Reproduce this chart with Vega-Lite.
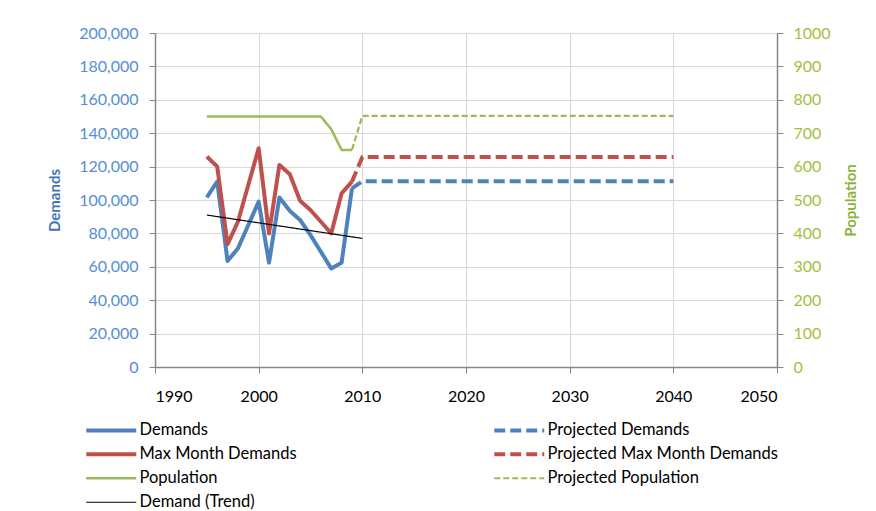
{
  "$schema": "https://vega.github.io/schema/vega-lite/v6.json",
  "width": 622,
  "height": 334,
  "autosize": {"type": "none"},
  "padding": {"left": 155, "top": 33, "right": 99, "bottom": 144},
  "background": "white",
  "config": {
    "view": {"stroke": null},
    "font": "Lato",
    "axis": {"labelFont": "Lato", "titleFont": "Lato", "labelFontSize": 16, "gridColor": "#d9d9d9", "domainColor": "#868686", "tickColor": "#868686", "tickSize": 6, "domainWidth": 1.5},
    "legend": {"labelFont": "Lato", "labelFontSize": 16.5, "labelColor": "#000000", "labelLimit": 400}
  },
  "data": {"values": [
    {"year": 1995, "value": 101600, "series": "Demands"},
    {"year": 1996, "value": 111000, "series": "Demands"},
    {"year": 1997, "value": 63500, "series": "Demands"},
    {"year": 1998, "value": 71000, "series": "Demands"},
    {"year": 1999, "value": 85000, "series": "Demands"},
    {"year": 2000, "value": 99000, "series": "Demands"},
    {"year": 2001, "value": 62500, "series": "Demands"},
    {"year": 2002, "value": 101500, "series": "Demands"},
    {"year": 2003, "value": 93500, "series": "Demands"},
    {"year": 2004, "value": 88000, "series": "Demands"},
    {"year": 2005, "value": 79000, "series": "Demands"},
    {"year": 2006, "value": 69000, "series": "Demands"},
    {"year": 2007, "value": 59000, "series": "Demands"},
    {"year": 2008, "value": 62500, "series": "Demands"},
    {"year": 2009, "value": 107000, "series": "Demands"},
    {"year": 2009, "value": 107000, "series": "Projected Demands"},
    {"year": 2010, "value": 111300, "series": "Projected Demands"},
    {"year": 2040, "value": 111300, "series": "Projected Demands"},
    {"year": 1995, "value": 126000, "series": "Max Month Demands"},
    {"year": 1996, "value": 120000, "series": "Max Month Demands"},
    {"year": 1997, "value": 73500, "series": "Max Month Demands"},
    {"year": 1998, "value": 87000, "series": "Max Month Demands"},
    {"year": 1999, "value": 109000, "series": "Max Month Demands"},
    {"year": 2000, "value": 131000, "series": "Max Month Demands"},
    {"year": 2001, "value": 80000, "series": "Max Month Demands"},
    {"year": 2002, "value": 121000, "series": "Max Month Demands"},
    {"year": 2003, "value": 115500, "series": "Max Month Demands"},
    {"year": 2004, "value": 99500, "series": "Max Month Demands"},
    {"year": 2005, "value": 94000, "series": "Max Month Demands"},
    {"year": 2006, "value": 87000, "series": "Max Month Demands"},
    {"year": 2007, "value": 80000, "series": "Max Month Demands"},
    {"year": 2008, "value": 104000, "series": "Max Month Demands"},
    {"year": 2009, "value": 111000, "series": "Max Month Demands"},
    {"year": 2009, "value": 111000, "series": "Projected Max Month Demands"},
    {"year": 2010, "value": 125700, "series": "Projected Max Month Demands"},
    {"year": 2040, "value": 125700, "series": "Projected Max Month Demands"},
    {"year": 1995, "value": 91000, "series": "Demand (Trend)"},
    {"year": 2010, "value": 77000, "series": "Demand (Trend)"},
    {"year": 1995, "value": 750, "series": "Population"},
    {"year": 1996, "value": 750, "series": "Population"},
    {"year": 1997, "value": 750, "series": "Population"},
    {"year": 1998, "value": 750, "series": "Population"},
    {"year": 1999, "value": 750, "series": "Population"},
    {"year": 2000, "value": 750, "series": "Population"},
    {"year": 2001, "value": 750, "series": "Population"},
    {"year": 2002, "value": 750, "series": "Population"},
    {"year": 2003, "value": 750, "series": "Population"},
    {"year": 2004, "value": 750, "series": "Population"},
    {"year": 2005, "value": 750, "series": "Population"},
    {"year": 2006, "value": 750, "series": "Population"},
    {"year": 2007, "value": 712, "series": "Population"},
    {"year": 2008, "value": 650, "series": "Population"},
    {"year": 2009, "value": 650, "series": "Population"},
    {"year": 2009, "value": 650, "series": "Projected Population"},
    {"year": 2010, "value": 752, "series": "Projected Population"},
    {"year": 2040, "value": 752, "series": "Projected Population"}
  ]},
  "encoding": {
    "x": {"field": "year", "type": "quantitative",
      "scale": {"domain": [1990, 2050], "nice": false, "zero": false},
      "axis": {"title": null, "values": [1990, 2000, 2010, 2020, 2030, 2040, 2050], "format": "d", "grid": true, "labelColor": "#000000", "labelPadding": 15}},
    "color": {"field": "series", "type": "nominal",
      "scale": {"domain": ["Demands", "Projected Demands", "Max Month Demands", "Projected Max Month Demands", "Population", "Projected Population", "Demand (Trend)"],
        "range": ["#4F81BD", "#4F81BD", "#C0504D", "#C0504D", "#9BBB59", "#9BBB59", "#000000"]},
      "legend": {"title": null, "orient": "none", "direction": "horizontal", "legendX": -52, "legendY": 389, "columns": 2, "columnPadding": 189, "rowPadding": 7, "symbolType": "M-5,0H5", "symbolSize": 100, "labelOffset": 20}},
    "strokeDash": {"field": "series", "type": "nominal",
      "scale": {"domain": ["Demands", "Projected Demands", "Max Month Demands", "Projected Max Month Demands", "Population", "Projected Population", "Demand (Trend)"],
        "range": [[1, 0], [11, 5], [1, 0], [11, 5], [1, 0], [6, 3], [1, 0]]},
      "legend": {"title": null}},
    "strokeWidth": {"field": "series", "type": "nominal",
      "scale": {"type": "ordinal", "domain": ["Demands", "Projected Demands", "Max Month Demands", "Projected Max Month Demands", "Population", "Projected Population", "Demand (Trend)"],
        "range": [4, 4, 4, 4, 2.5, 2.2, 1.2]},
      "legend": {"title": null}}
  },
  "layer": [
    {
      "transform": [{"filter": "datum.series != 'Population' && datum.series != 'Projected Population'"}],
      "mark": {"type": "line", "strokeJoin": "round"},
      "encoding": {
        "y": {"field": "value", "type": "quantitative",
          "scale": {"domain": [0, 200000], "nice": false},
          "axis": {"title": "Demands", "values": [0, 20000, 40000, 60000, 80000, 100000, 120000, 140000, 160000, 180000, 200000], "format": ",.0f", "grid": true, "labelColor": "#558ED5", "titleColor": "#3F75B8", "titleFontSize": 15, "titleFontWeight": "bold", "labelPadding": 11, "titlePadding": 16}}
      }
    },
    {
      "transform": [{"filter": "datum.series == 'Population' || datum.series == 'Projected Population'"}],
      "mark": {"type": "line", "strokeJoin": "round"},
      "encoding": {
        "y": {"field": "value", "type": "quantitative",
          "scale": {"domain": [0, 1000], "nice": false},
          "axis": {"orient": "right", "title": "Population", "values": [0, 100, 200, 300, 400, 500, 600, 700, 800, 900, 1000], "format": "d", "grid": false, "labelColor": "#A2C03E", "titleColor": "#8DB33A", "titleFontSize": 15, "titleFontWeight": "bold", "titleAngle": 270, "labelPadding": 10, "titlePadding": 28}}
      }
    }
  ],
  "resolve": {"scale": {"y": "independent"}}
}
